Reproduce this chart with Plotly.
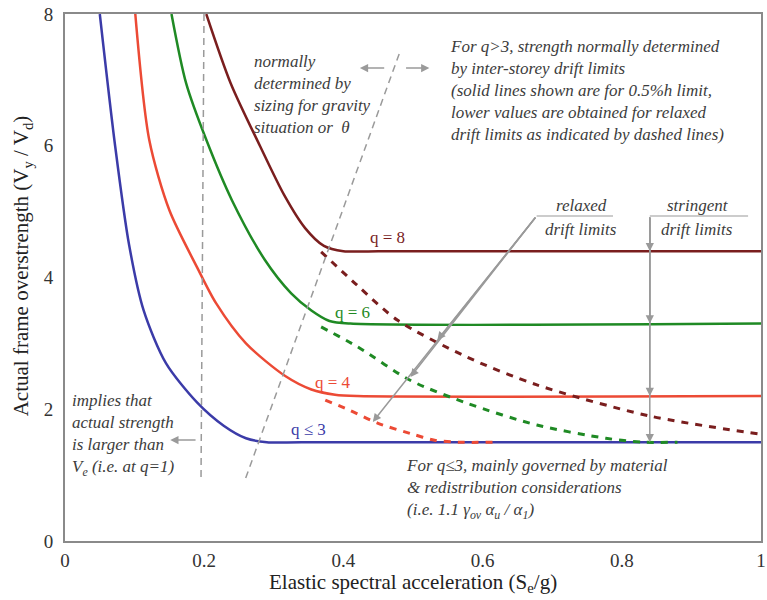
import plotly.graph_objects as go

# ---------------- data ----------------
sa_q3 = [0.050, 0.072, 0.092, 0.113, 0.145, 0.190, 0.228, 0.260, 0.290, 0.340, 1.000]
ov_q3 = [8.00, 6.00, 4.50, 3.50, 2.70, 2.10, 1.75, 1.56, 1.50, 1.50, 1.50]

sa_q4 = [0.101, 0.121, 0.150, 0.190, 0.217, 0.260, 0.317, 0.354, 0.388, 0.420, 1.000]
ov_q4 = [8.00, 6.09, 5.02, 4.15, 3.61, 3.00, 2.50, 2.30, 2.22, 2.20, 2.20]

sa_q6 = [0.153, 0.174, 0.203, 0.240, 0.287, 0.325, 0.354, 0.380, 0.410, 1.000]
ov_q6 = [8.00, 6.95, 6.09, 5.17, 4.27, 3.76, 3.50, 3.34, 3.30, 3.30]

sa_q8 = [0.203, 0.238, 0.280, 0.315, 0.345, 0.372, 0.400, 0.450, 1.000]
ov_q8 = [8.00, 6.95, 6.00, 5.25, 4.75, 4.48, 4.40, 4.40, 4.40]

# relaxed-drift (dashed) continuations
sa_q8r = [0.368, 0.420, 0.478, 0.578, 0.678, 0.839, 1.000]
ov_q8r = [4.39, 3.88, 3.35, 2.79, 2.37, 1.90, 1.62]

sa_q6r = [0.368, 0.420, 0.496, 0.578, 0.678, 0.777, 0.830, 0.880]
ov_q6r = [3.25, 2.95, 2.44, 2.09, 1.76, 1.56, 1.50, 1.50]

sa_q4r = [0.374, 0.410, 0.449, 0.500, 0.531, 0.565, 0.620]
ov_q4r = [2.14, 1.98, 1.79, 1.62, 1.53, 1.50, 1.50]

x_ticks = [0, 0.2, 0.4, 0.6, 0.8, 1.0]
x_ticktext = ["0", "0.2", "0.4", "0.6", "0.8", "1"]
y_ticks = [0, 2, 4, 6, 8]
y_ticktext = ["0", "2", "4", "6", "8"]

q_labels = ["q = 8", "q = 6", "q = 4", "q \u2264 3"]

# ---------------- styling ----------------
BLUE = "#3b3ba8"
RED = "#ec4a35"
GREEN = "#1f8a24"
DRED = "#7a1e1e"
GREY = "#9a9a9a"
TXT = "#3c3c3c"
SERIF = "Liberation Serif"

W, H = 767, 600
L, R, T, B = 65, 1, 14, 59
PW, PH = W - L - R, H - T - B


def px(x, y):
    """pixel position -> data coordinates (for annotation placement)"""
    return (x - L) / PW, (H - B - y) / PH * 8


fig = go.Figure()


def add_curve(x, y, color, dash=None, width=2.5):
    fig.add_trace(go.Scatter(
        x=x, y=y, mode="lines", hoverinfo="skip", showlegend=False,
        line=dict(color=color, width=width, shape="spline", smoothing=0.8,
                  dash=dash)))


add_curve(sa_q3, ov_q3, BLUE)
add_curve(sa_q4, ov_q4, RED)
add_curve(sa_q6, ov_q6, GREEN)
add_curve(sa_q8, ov_q8, DRED)
add_curve(sa_q8r, ov_q8r, DRED, dash="7px,7px", width=3)
add_curve(sa_q6r, ov_q6r, GREEN, dash="7px,7px", width=3)
add_curve(sa_q4r, ov_q4r, RED, dash="7px,7px", width=3)

shapes = []
# grey dashed guide lines
x0, y0 = px(205, 14)
x1, y1 = px(202, 478)
shapes.append(dict(type="line", x0=x0, y0=8, x1=x1, y1=y1,
                   line=dict(color=GREY, width=1.5, dash="7px,5px")))
x0, y0 = px(247, 478)
x1, y1 = px(403, 50)
shapes.append(dict(type="line", x0=x0, y0=y0, x1=x1, y1=y1,
                   line=dict(color=GREY, width=1.5, dash="7px,5px")))
# label underlines
ua, uy = px(540, 216)
ub, _ = px(617, 216)
shapes.append(dict(type="line", x0=ua, y0=uy, x1=ub, y1=uy,
                   line=dict(color=GREY, width=1.2)))
sa_, _ = px(654, 216)
sb_, _ = px(753, 216)
shapes.append(dict(type="line", x0=sa_, y0=uy, x1=sb_, y1=uy,
                   line=dict(color=GREY, width=1.2)))

ann = []


def arrow(head, tail):
    ann.append(dict(x=head[0], y=head[1], ax=tail[0], ay=tail[1],
                    xref="x", yref="y", axref="x", ayref="y", text="",
                    showarrow=True, arrowhead=2, arrowsize=1.1,
                    arrowwidth=1.5, arrowcolor=GREY, standoff=0))


# relaxed drift limits arrow (crosses dashed curves)
rt = px(540, 216)
arrow(px(440, 340), rt)
arrow(px(413, 377), rt)
arrow(px(375, 422), rt)
# stringent drift limits arrow (vertical, heads at each plateau)
st = px(654, 216)
for lev in [ov_q8[-1], ov_q6[-1], ov_q4[-1], ov_q3[-1]]:
    arrow((st[0], lev), st)
# top double arrows
arrow(px(362, 68), px(388, 68))
arrow(px(432, 68), px(407, 68))
# bottom-left arrow
arrow(px(171, 440), px(198, 440))


def text(x, y, s, size=17, color=TXT, italic=True, xanchor="left",
         yanchor="top", align="left", angle=0):
    xd, yd = px(x, y)
    ann.append(dict(x=xd, y=yd, xref="x", yref="y", showarrow=False,
                    text=("<i>%s</i>" % s) if italic else s,
                    xanchor=xanchor, yanchor=yanchor, align=align,
                    textangle=angle,
                    font=dict(family=SERIF, size=size, color=color)))


text(253, 50, "normally<br>determined by<br>sizing for gravity<br>situation or  \u03b8")
text(451, 35, "For q&gt;3, strength normally determined<br>"
     "by inter-storey drift limits<br>"
     "(solid lines shown are for 0.5%h limit,<br>"
     "lower values are obtained for relaxed<br>"
     "drift limits as indicated by dashed lines)")
text(70, 389, "implies that<br>actual strength<br>is larger than<br>"
     "V<sub>e</sub> (i.e. at q=1)")
text(406, 454, "For q\u22643, mainly governed by material<br>"
     "& redistribution considerations<br>"
     "(i.e. 1.1 \u03b3<sub>ov</sub> \u03b1<sub>u</sub> / \u03b1<sub>1</sub>)")
text(585, 205, "relaxed", xanchor="center", yanchor="middle")
text(585, 229, "drift limits", xanchor="center", yanchor="middle")
text(703, 205, "stringent", xanchor="center", yanchor="middle")
text(702, 229, "drift limits", xanchor="center", yanchor="middle")

# curve labels
for (lx, ly), lab, col in zip([(390, 237), (355, 312), (335, 382), (310, 429)],
                              q_labels, [DRED, GREEN, RED, BLUE]):
    text(lx, ly, lab, size=17, color=col, italic=False,
         xanchor="center", yanchor="middle")

# axis titles
ann.append(dict(x=0.5, y=-(583 - (H - B)) / PH, xref="paper", yref="paper",
                showarrow=False,
                text="Elastic spectral acceleration (S<sub>e</sub>/g)",
                xanchor="center", yanchor="middle",
                font=dict(family=SERIF, size=21, color="#222")))
ann.append(dict(x=(22 - L) / PW, y=(H - B - 266) / PH, xref="paper",
                yref="paper", showarrow=False, textangle=-90,
                text="Actual frame overstrength (V<sub>y</sub> / V<sub>d</sub>)",
                xanchor="center", yanchor="middle",
                font=dict(family=SERIF, size=21, color="#222")))

axis_common = dict(showgrid=False, zeroline=False, showline=True,
                   linecolor="#8a8a8a", linewidth=2, mirror=True,
                   ticks="outside", tickcolor="rgba(0,0,0,0)",
                   ticklabeloverflow="allow",
                   tickfont=dict(family=SERIF, size=19, color="#333"))

fig.update_layout(
    width=W, height=H,
    margin=dict(l=L, r=R, t=T, b=B, pad=0),
    paper_bgcolor="white", plot_bgcolor="white",
    font=dict(family=SERIF),
    xaxis=dict(range=[0, 1], tickvals=x_ticks, ticktext=x_ticktext,
               ticklen=1, **axis_common),
    yaxis=dict(range=[0, 8], tickvals=y_ticks, ticktext=y_ticktext,
               ticklen=6, **axis_common),
    shapes=shapes, annotations=ann, showlegend=False,
)

fig.write_html("out.html")
